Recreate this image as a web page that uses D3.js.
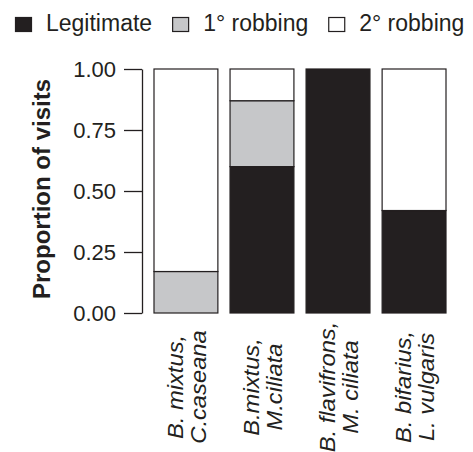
<!DOCTYPE html>
<html>
<head>
<meta charset="utf-8">
<script src="https://cdn.jsdelivr.net/npm/d3@7"></script>
<style>
  body { margin: 0; background: #fff; }
  text { font-family: "Liberation Sans", Arial, sans-serif; fill: #231f20; }
</style>
</head>
<body>
<div id="chart"></div>
<script>
// data
const categories = ["mixtus_caseana", "mixtus_ciliata", "flavifrons_ciliata", "bifarius_vulgaris"];
const categoryLabels = [
  ["B. mixtus,", "C.caseana"],
  ["B.mixtus,", "M.ciliata"],
  ["B. flavifrons,", "M. ciliata"],
  ["B. bifarius,", "L. vulgaris"]
];
const legitimate = [0, 0.60, 1, 0.42];
const robbing1 = [0.17, 0.27, 0, 0];
const robbing2 = [0.83, 0.13, 0, 0.58];
const seriesKeys = ["legit", "rob1", "rob2"];
const seriesLabels = ["Legitimate", "1\u00b0 robbing", "2\u00b0 robbing"];
const yTicks = [0, 0.25, 0.5, 0.75, 1];

const ink = "#231f20";
const colors = {legit: ink, rob1: "#c6c7c9", rob2: "#ffffff"};

const W = 473, H = 452;
const svg = d3.select("#chart").append("svg")
  .attr("width", W)
  .attr("height", H);

const rows = categories.map((c, i) => ({
  cat: c, legit: legitimate[i], rob1: robbing1[i], rob2: robbing2[i]
}));
const stacked = d3.stack().keys(seriesKeys)(rows);

var x = d3.scaleBand().domain(categories).range([154, 446]).paddingInner(0.16).paddingOuter(0);
var y = d3.scaleLinear().domain([0, 1]).range([313, 69]);

// y axis
const yAxis = svg.append("g")
  .attr("transform", "translate(142,0)")
  .call(d3.axisLeft(y).tickValues(yTicks).tickFormat(d3.format(".2f")).tickSize(18).tickPadding(8).tickSizeOuter(0));
yAxis.select(".domain").attr("stroke", ink).attr("stroke-width", 1.3);
yAxis.selectAll(".tick line").attr("stroke", ink).attr("stroke-width", 1.3);
yAxis.selectAll(".tick text")
  .attr("fill", ink)
  .style("font-family", "'Liberation Sans', Arial, sans-serif")
  .style("font-size", "22px");

svg.append("text")
  .attr("transform", "translate(50," + ((y(0) + y(1)) / 2 - 2) + ") rotate(-90)")
  .attr("text-anchor", "middle")
  .style("font-size", "24px")
  .style("font-weight", "bold")
  .text("Proportion of visits");

// bars
svg.append("g").selectAll("g")
  .data(stacked)
  .join("g")
    .attr("fill", d => colors[d.key])
  .selectAll("rect")
  .data(d => d.filter(s => s[1] - s[0] > 0))
  .join("rect")
    .attr("x", d => x(d.data.cat))
    .attr("y", d => y(d[1]))
    .attr("width", x.bandwidth())
    .attr("height", d => y(d[0]) - y(d[1]))
    .attr("stroke", ink)
    .attr("stroke-width", 1.2);

// category labels, rotated, two lines (slightly stretched like the figure)
const lab = svg.append("g").selectAll("text")
  .data(categories)
  .join("text")
    .attr("transform", (d) => "translate(" + (x(d) + x.bandwidth() / 2 - 3) + ",387) scale(1,1.08) rotate(-90)")
    .attr("text-anchor", "middle")
    .style("font-size", "22px")
    .style("font-style", "italic");
lab.each(function(d, i) {
  const t = d3.select(this);
  categoryLabels[i].forEach((line, j) => {
    t.append("tspan").attr("x", 0).attr("y", j * 23).text(line);
  });
});

// legend
const legend = svg.append("g").attr("transform", "translate(15,0)");
let lx = 0;
seriesKeys.forEach((k, i) => {
  legend.append("rect")
    .attr("x", lx + 0.5).attr("y", 17.5)
    .attr("width", 16).attr("height", 14)
    .attr("fill", colors[k])
    .attr("stroke", ink)
    .attr("stroke-width", 1.2);
  const t = legend.append("text")
    .attr("x", lx + 31).attr("y", 31)
    .style("font-size", "23px")
    .text(seriesLabels[i]);
  lx += 31 + t.node().getComputedTextLength() + 20;
});
</script>
</body>
</html>
